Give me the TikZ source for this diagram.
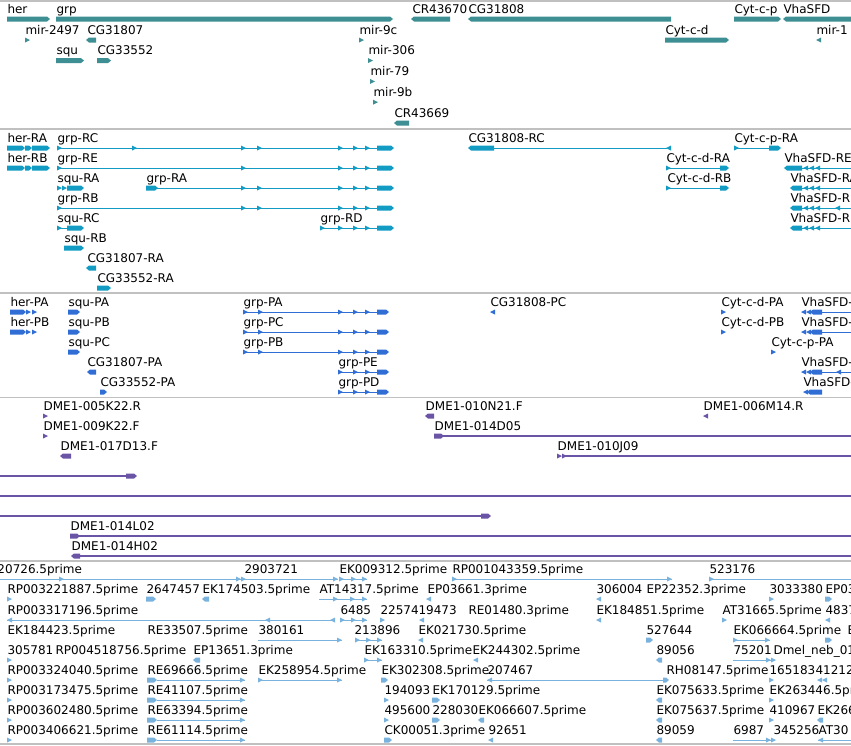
\documentclass[tikz,border=0pt]{standalone}
\usepackage{fontspec}
\setmainfont{DejaVu Sans}
\definecolor{genec}{RGB}{62,143,148}
\definecolor{txc}{RGB}{18,156,196}
\definecolor{protc}{RGB}{48,110,214}
\definecolor{bacc}{RGB}{106,84,166}
\definecolor{estc}{RGB}{122,178,222}
\definecolor{sepc}{RGB}{192,192,192}
\tikzset{
  lbl/.style={anchor=base west, inner sep=0pt, text=black,
    font=\fontsize{12}{14}\selectfont},
  track/.style={sepc, line width=1.5pt},
}
% label: name, x, row y
\newcommand{\flabel}[4]{\node[lbl] (#1) at (#2,#3-6) {#4};}
% small strand marks
\newcommand{\tfwd}[2]{\fill (#1,#2-2.5) -- ++(5,2.5) -- ++(-5,2.5) -- cycle;}
\newcommand{\trev}[2]{\fill (#1,#2) -- ++(5,-2.5) -- ++(0,5) -- cycle;}
% exon boxes: x1, x2, y
\newcommand{\exonR}[3]{\fill (#1,#3-2.5) -- (#2-3,#3-2.5) -- (#2,#3) -- (#2-3,#3+2.5) -- (#1,#3+2.5) -- cycle;}
\newcommand{\exonL}[3]{\fill (#1,#3) -- (#1+3,#3-2.5) -- (#2,#3-2.5) -- (#2,#3+2.5) -- (#1+3,#3+2.5) -- cycle;}
\newcommand{\intron}[3]{\draw (#1,#3) -- (#2,#3);}

\begin{document}
\begin{tikzpicture}[x=1pt,y=-1pt,line width=1pt]
\useasboundingbox (0,0) rectangle (851,745);
\clip (0,0) rectangle (851,745);
\fill[white] (0,0) rectangle (851,745);

% track borders
\foreach \y in {1,129,293,397.5,561,744} {
  \draw[track] (0,\y) -- (851,\y);
}

% genes
\begin{scope}[color=genec]
  \flabel{her}{7}{19}{her} \exonR{7}{50}{19}
  \flabel{grp}{56}{19}{grp} \exonR{56}{393}{19}
  \flabel{cr43670}{412}{19}{CR43670} \exonL{411}{450}{19}
  \flabel{cg31808}{468}{19}{CG31808} \exonL{468}{671}{19}
  \flabel{cytcp}{734}{19}{Cyt-c-p} \exonR{734}{781}{19}
  \flabel{vhasfd}{783}{19}{VhaSFD} \exonL{783}{856}{19}
  \flabel{mir2497}{25}{40}{mir-2497} \tfwd{25}{40}
  \flabel{cg31807}{87}{40}{CG31807} \exonL{86}{96}{40}
  \flabel{mir9c}{359}{40}{mir-9c} \tfwd{359}{40}
  \flabel{cytcd}{665}{40}{Cyt-c-d} \exonR{665}{729}{40}
  \flabel{mir1}{816}{40}{mir-1} \trev{816}{40}
  \flabel{squ}{56}{60.6}{squ} \exonR{56}{84}{60.6}
  \flabel{cg33552}{97}{60.6}{CG33552} \exonR{97}{111}{60.6}
  \flabel{mir306}{368}{60.6}{mir-306} \tfwd{368}{60.6}
  \flabel{mir79}{370}{81.4}{mir-79} \tfwd{370}{81.4}
  \flabel{mir9b}{373}{102.2}{mir-9b} \tfwd{373}{102.2}
  \flabel{cr43669}{394}{123}{CR43669} \exonL{394}{409}{123}
\end{scope}

% transcripts
\begin{scope}[color=txc]
  \flabel{herRA}{7}{148}{her-RA} \flabel{herRB}{7}{168}{her-RB}
  \foreach \y in {148,168} {
    \exonR{7}{25}{\y} \exonR{25}{32}{\y} \exonR{32}{50}{\y}
  }
  \flabel{grpRC}{57}{148}{grp-RC}
  \flabel{grpRE}{57}{168}{grp-RE}
  \flabel{grpRA}{146}{188}{grp-RA}
  \flabel{grpRB}{57}{208}{grp-RB}
  \flabel{grpRD}{320}{228}{grp-RD}
  \intron{57}{380}{148} \intron{57}{380}{168} \intron{156}{380}{188}
  \intron{57}{380}{208} \intron{320}{380}{228}
  \foreach \x in {57,132,241,257} {\tfwd{\x}{148}}
  \foreach \x in {57,241} {\tfwd{\x}{168}}
  \foreach \x in {241,257} {\tfwd{\x}{188}}
  \foreach \x in {57,241,257} {\tfwd{\x}{208}}
  \tfwd{320}{228}
  \exonR{146}{158}{188}
  \foreach \y in {148,168,188,208,228} {
    \foreach \x in {338,353,365} {\tfwd{\x}{\y}}
    \exonR{377}{394}{\y}
  }
  \flabel{squRA}{57}{188}{squ-RA} \tfwd{57}{188} \tfwd{62}{188} \exonR{67}{84}{188}
  \flabel{squRC}{57}{228}{squ-RC} \tfwd{57}{228} \intron{57}{68}{228} \exonR{67}{84}{228}
  \flabel{squRB}{64}{248}{squ-RB} \exonR{64}{84}{248}
  \flabel{cg807RA}{87}{268}{CG31807-RA} \exonL{86}{96}{268}
  \flabel{cg552RA}{97}{288}{CG33552-RA} \exonR{97}{111}{288}
  \flabel{cgRC}{468}{148}{CG31808-RC} \exonL{468}{494}{148} \intron{494}{667}{148} \trev{666}{148}
  \flabel{cytcpRA}{734}{148}{Cyt-c-p-RA} \tfwd{734}{148} \intron{734}{770}{148} \exonR{769}{781}{148}
  \flabel{cytcdRA}{666}{168}{Cyt-c-d-RA}
  \flabel{cytcdRB}{667}{188}{Cyt-c-d-RB}
  \foreach \y in {168,188} {
    \tfwd{666}{\y} \intron{666}{722}{\y} \exonR{720}{729}{\y}
  }
  \flabel{vhaRE}{784}{168}{VhaSFD-RE} \exonL{784}{802}{168}
  \flabel{vhaRA}{790}{188}{VhaSFD-RA}
  \flabel{vhaRB}{790}{208}{VhaSFD-RB}
  \flabel{vhaRD}{790}{228}{VhaSFD-RD}
  \foreach \y in {188,208,228} {\exonL{790}{802}{\y}}
  \foreach \y in {168,188,208,228} {
    \foreach \x in {803,809,815} {\trev{\x}{\y}}
    \intron{802}{856}{\y}
  }
  \trev{835}{208}
\end{scope}

% proteins
\begin{scope}[color=protc]
  \flabel{herPA}{10}{312}{her-PA} \flabel{herPB}{10}{332}{her-PB}
  \foreach \y in {312,332} {\exonR{10}{26}{\y} \tfwd{26}{\y} \tfwd{32}{\y}}
  \flabel{squPA}{68}{312}{squ-PA} \flabel{squPB}{68}{332}{squ-PB}
  \flabel{squPC}{68}{352}{squ-PC}
  \foreach \y in {312,332,352} {\exonR{68}{80}{\y}}
  \flabel{cg807PA}{87}{372}{CG31807-PA} \exonL{87}{96}{372}
  \flabel{cg552PA}{100}{392}{CG33552-PA} \exonR{100}{107}{392}
  \flabel{grpPA}{243}{312}{grp-PA} \flabel{grpPC}{243}{332}{grp-PC}
  \flabel{grpPB}{243}{352}{grp-PB}
  \foreach \y in {312,332,352} {
    \intron{243}{380}{\y} \tfwd{243}{\y} \tfwd{258}{\y}
  }
  \flabel{grpPE}{338}{372}{grp-PE} \flabel{grpPD}{338}{392}{grp-PD}
  \foreach \y in {372,392} {\intron{338}{380}{\y}}
  \foreach \y in {312,332,352,372,392} {
    \foreach \x in {338,353,365} {\tfwd{\x}{\y}}
    \exonR{377}{389}{\y}
  }
  \flabel{cgPC}{490}{312}{CG31808-PC} \trev{490}{312}
  \flabel{cytcdPA}{721}{312}{Cyt-c-d-PA} \tfwd{721}{312}
  \flabel{cytcdPB}{721}{332}{Cyt-c-d-PB} \tfwd{721}{332}
  \flabel{cytcpPA}{771}{352}{Cyt-c-p-PA} \tfwd{771}{352}
  \flabel{vhaPA}{801}{312}{VhaSFD-} \flabel{vhaPB}{801}{332}{VhaSFD-}
  \flabel{vhaPC}{801}{372}{VhaSFD-} \flabel{vhaPD}{803}{392}{VhaSFD-}
  \foreach \y in {312,332,372} {
    \foreach \x in {801,806} {\trev{\x}{\y}}
    \exonL{810}{822}{\y} \intron{822}{856}{\y}
  }
  \trev{836}{372}
  \trev{803}{392} \exonL{807}{822}{392}
\end{scope}

% BAC ends
\begin{scope}[color=bacc, line width=1.3pt]
  \flabel{b005K22}{43}{416}{DME1-005K22.R} \tfwd{43}{416}
  \flabel{b010N21}{425}{416}{DME1-010N21.F} \exonL{425}{434}{416}
  \flabel{b006M14}{703}{416}{DME1-006M14.R} \trev{703}{416}
  \flabel{b009K22}{43}{436}{DME1-009K22.F} \tfwd{43}{436}
  \flabel{b014D05}{434}{436}{DME1-014D05} \exonR{434}{444}{436} \intron{443}{856}{436}
  \flabel{b017D13}{60}{456}{DME1-017D13.F} \exonL{60}{71}{456}
  \flabel{b010J09}{557}{456}{DME1-010J09} \tfwd{557}{456} \tfwd{562}{456} \intron{562}{856}{456}
  \intron{-5}{130}{476} \exonR{126}{137}{476}
  \intron{-5}{856}{496}
  \intron{-5}{484}{516} \exonR{481}{491}{516}
  \flabel{b014L02}{70}{536}{DME1-014L02} \exonR{70}{80}{536} \intron{78}{856}{536}
  \flabel{b014H02}{71}{556}{DME1-014H02} \exonL{71}{80}{556} \intron{80}{856}{556}
\end{scope}

% ESTs
\begin{scope}[color=estc]
  % row 1
  \flabel{e20726}{-3}{579}{20726.5prime} \intron{-5}{245}{579}
  \foreach \x in {59,236,241} {\tfwd{\x}{579}}
  \flabel{e2903721}{244}{579}{2903721} \intron{245}{338}{579} \tfwd{333}{579}
  \flabel{ek009312}{339}{579}{EK009312.5prime} \intron{339}{367}{579}
  \foreach \x in {339,351,362} {\tfwd{\x}{579}}
  \flabel{rp001043359}{452}{579}{RP001043359.5prime} \tfwd{452}{579} \intron{452}{672}{579} \tfwd{667}{579}
  \flabel{e523176}{709}{579}{523176} \tfwd{709}{579} \intron{709}{856}{579}
  % row 2
  \flabel{rp003221887}{7}{599}{RP003221887.5prime} \tfwd{7}{599}
  \flabel{e2647457}{146}{599}{2647457} \exonR{146}{156}{599}
  \flabel{ek174503}{202}{599}{EK174503.5prime} \exonL{202}{209}{599}
  \flabel{at14317}{319}{599}{AT14317.5prime} \intron{319}{367}{599}
  \foreach \x in {333,350,362} {\tfwd{\x}{599}}
  \flabel{ep03661}{427}{599}{EP03661.3prime} \trev{426}{599}
  \flabel{e306004}{596}{599}{306004} \trev{596}{599}
  \flabel{ep22352}{646}{599}{EP22352.3prime}
  \flabel{e3033380}{769}{599}{3033380} \tfwd{769}{599}
  \flabel{ep03}{825}{599}{EP03} \exonR{825}{832}{599}
  % row 3
  \flabel{rp003317196}{7}{620}{RP003317196.5prime} \intron{7}{335}{620}
  \foreach \x in {7,265,330} {\trev{\x}{620}}
  \flabel{e6485}{340}{620}{6485} \intron{340}{367}{620}
  \foreach \x in {340,351,362} {\tfwd{\x}{620}}
  \flabel{e22574}{380}{620}{22574} \tfwd{380}{620}
  \flabel{e19473}{418}{620}{19473} \trev{419}{620}
  \flabel{re01480}{468}{620}{RE01480.3prime}
  \flabel{ek184851}{596}{620}{EK184851.5prime} \trev{596}{620}
  \flabel{at31665}{722}{620}{AT31665.5prime} \tfwd{722}{620}
  \flabel{e4837}{825}{620}{4837} \trev{825}{620}
  % row 4
  \flabel{ek184423}{7}{640}{EK184423.5prime}
  \flabel{re33507}{147}{640}{RE33507.5prime}
  \flabel{e380161}{258}{640}{380161} \intron{258}{342}{640} \tfwd{337}{640}
  \flabel{e213896}{354}{640}{213896} \intron{355}{382}{640}
  \foreach \x in {355,366,377} {\tfwd{\x}{640}}
  \flabel{ek021730}{418}{640}{EK021730.5prime} \trev{418}{640}
  \flabel{e527644}{646}{640}{527644} \exonR{646}{653}{640}
  \flabel{ek066664}{733}{640}{EK066664.5prime} \tfwd{733}{640} \intron{733}{770}{640} \tfwd{765}{640}
  \flabel{ekE}{847}{640}{E} \exonR{825}{832}{640}
  % row 5
  \flabel{e305781}{7}{660}{305781} \tfwd{7}{660}
  \flabel{rp004518756}{55}{660}{RP004518756.5prime}
  \flabel{ep13651}{193}{660}{EP13651.3prime} \exonL{193}{200}{660}
  \flabel{ek163310}{364}{660}{EK163310.5prime} \tfwd{364}{660} \intron{364}{382}{660} \tfwd{377}{660}
  \flabel{ek244302}{472}{660}{EK244302.5prime} \trev{473}{660}
  \flabel{e89056}{656}{660}{89056} \exonL{656}{662}{660}
  \flabel{e75201}{733}{660}{75201} \intron{733}{775}{660} \tfwd{766}{660} \tfwd{771}{660}
  \flabel{dmelneb}{773}{660}{Dmel\_neb\_01}
  % row 6
  \flabel{rp003324040}{7}{680}{RP003324040.5prime} \tfwd{7}{680}
  \flabel{re69666}{147}{680}{RE69666.5prime}
  \flabel{ek258954}{258}{680}{EK258954.5prime} \tfwd{258}{680} \intron{258}{342}{680} \tfwd{337}{680}
  \flabel{ek302308}{381}{680}{EK302308.5prime} \exonR{381}{388}{680}
  \flabel{e207467}{487}{680}{207467} \trev{487}{680} \intron{487}{665}{680} \exonR{663}{669}{680}
  \flabel{rh08147}{666}{680}{RH08147.5prime}
  \flabel{e165183}{769}{680}{165183} \tfwd{769}{680}
  \flabel{e41212}{815}{680}{41212} \trev{817}{680} \trev{822}{680}
  % row 7
  \flabel{rp003173475}{7}{700}{RP003173475.5prime} \tfwd{7}{700}
  \flabel{re41107}{147}{700}{RE41107.5prime}
  \flabel{e194093}{384}{700}{194093} \tfwd{384}{700}
  \flabel{ek170129}{432}{700}{EK170129.5prime} \exonR{432}{440}{700}
  \flabel{ek075633}{656}{700}{EK075633.5prime} \exonL{656}{662}{700}
  \flabel{ek263446}{769}{700}{EK263446.5prime} \tfwd{769}{700}
  % row 8
  \flabel{rp003602480}{7}{720}{RP003602480.5prime} \tfwd{7}{720}
  \flabel{re63394}{147}{720}{RE63394.5prime}
  \flabel{e495600}{384}{720}{495600} \tfwd{384}{720}
  \flabel{e228030}{432}{720}{228030} \exonR{432}{440}{720}
  \flabel{ek066607}{478}{720}{EK066607.5prime} \exonL{478}{484}{720}
  \flabel{ek075637}{656}{720}{EK075637.5prime} \exonL{656}{662}{720}
  \flabel{e410967}{769}{720}{410967} \tfwd{769}{720}
  \flabel{ek266}{817}{720}{EK266} \exonL{817}{823}{720}
  % row 9
  \flabel{rp003406621}{7}{740}{RP003406621.5prime} \tfwd{7}{740}
  \flabel{re61114}{147}{740}{RE61114.5prime}
  \flabel{ck00051}{384}{740}{CK00051.3prime} \exonR{384}{392}{740}
  \flabel{e92651}{488}{740}{92651} \trev{488}{740}
  \flabel{e89059}{656}{740}{89059} \exonL{656}{662}{740}
  \flabel{e6987}{733}{740}{6987} \intron{733}{775}{740} \tfwd{766}{740} \tfwd{771}{740}
  \flabel{e345256}{773}{740}{345256}
  \flabel{at30}{818}{740}{AT30} \trev{818}{740} \intron{818}{856}{740}
  % RE clones
  \foreach \y in {680,700,720,740} {
    \exonR{147}{157}{\y} \intron{157}{245}{\y} \tfwd{240}{\y}
  }
\end{scope}
\end{tikzpicture}
\end{document}
